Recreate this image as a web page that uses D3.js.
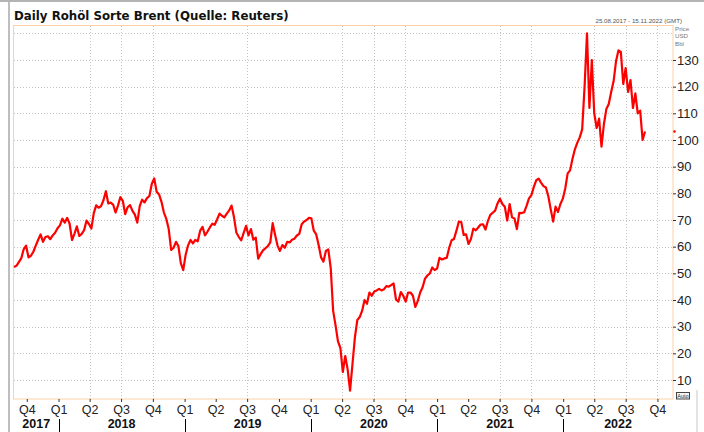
<!DOCTYPE html>
<html>
<head>
<meta charset="utf-8">
<script src="https://cdn.jsdelivr.net/npm/d3@7"></script>
<style>
  html, body { margin: 0; padding: 0; background: #fff; }
  svg { display: block; font-family: "Liberation Sans", Arial, sans-serif; }
</style>
</head>
<body>
<div id="chart"></div>
<script>
// Brent daily chart (Reuters) - weekly closes

const startDate = '2017-08-25';   // first value, then one value per week
const endDate = '2022-11-15';     // right edge of the time axis

const brent2017 = [52.4, 52.8, 54.2, 55.6, 59.0, 60.4, 56.0, 56.6, 58.1, 60.4, 62.6, 64.6, 61.8, 63.6, 63.9, 62.8, 64.2, 65.2, 66.9];
const brent2018 = [68.0, 70.5, 69.0, 70.8, 68.6, 62.5, 64.8, 67.6, 64.0, 64.8, 66.2, 69.8, 68.5, 66.8, 72.6, 75.5, 74.6, 75.2, 77.4, 80.8,
    76.2, 76.5, 75.8, 72.8, 75.4, 78.6, 77.2, 72.2, 74.8, 75.6, 73.4, 72.0, 69.0, 75.2, 77.6, 76.6, 78.2, 79.0, 83.6, 85.6,
    80.6, 79.6, 76.8, 72.8, 70.4, 66.6, 58.8, 59.6, 61.8, 60.2, 53.8, 51.2];
const brent2019 = [57.0, 60.5, 62.5, 61.2, 62.5, 62.0, 66.0, 67.4, 64.2, 65.6, 67.2, 68.6, 68.2, 70.2, 72.4, 71.6, 71.0, 72.4, 73.6, 75.4,
    71.0, 65.2, 63.6, 62.4, 65.2, 67.8, 64.2, 66.6, 62.6, 63.4, 55.5, 57.2, 58.6, 59.4, 60.2, 61.6, 68.8, 64.4, 60.4, 58.4,
    60.6, 59.6, 61.8, 61.6, 62.6, 63.0, 64.2, 64.8, 68.4, 69.4, 70.0, 70.8];
const brent2020 = [70.6, 66.0, 64.6, 60.6, 56.0, 54.4, 58.4, 59.0, 52.0, 36.0, 30.5, 24.5, 22.0, 13.0, 19.0, 14.0, 6.0, 16.0, 26.0, 32.5,
    33.6, 36.0, 40.0, 38.6, 42.8, 41.6, 43.2, 43.6, 44.2, 43.6, 44.0, 45.2, 45.0, 45.6, 46.2, 40.2, 39.4, 43.0, 41.6, 39.4,
    42.8, 42.8, 41.6, 37.4, 39.6, 42.8, 44.8, 48.0, 49.2, 50.0, 52.2, 51.2];
const brent2021 = [51.8, 55.8, 55.2, 55.6, 55.8, 59.6, 62.4, 62.9, 66.0, 69.4, 69.2, 64.4, 64.6, 61.0, 62.9, 66.8, 66.1, 67.2, 68.3, 68.4,
    66.4, 69.6, 71.9, 72.7, 73.5, 76.2, 78.0, 76.0, 75.0, 69.8, 76.0, 71.0, 70.6, 66.6, 72.7, 72.6, 72.9, 75.3, 78.1, 79.3,
    82.4, 84.9, 85.5, 84.0, 82.7, 82.2, 78.9, 74.0, 69.4, 75.0, 73.0, 76.0, 78.0];
const brent2022 = [81.8, 87.5, 88.6, 93.0, 96.5, 99.0, 101.0, 104.0, 120.0, 140.0, 112.0, 130.0, 110.0, 104.5, 108.0, 97.5, 106.0, 111.6, 113.5, 118.0,
    122.0, 129.5, 133.6, 133.0, 121.0, 127.0, 118.0, 122.5, 112.0, 117.5, 110.0, 111.0, 100.0, 103.2];

const priceTicks = [10, 20, 30, 40, 50, 60, 70, 80, 90, 100, 110, 120, 130];
const priceGrid = [10, 20, 30, 40, 50, 60, 70, 80, 90, 100, 110, 120, 130, 140];
const yearLabels = ['2017', '2018', '2019', '2020', '2021', '2022'];
const gridDates = ['2018-04-01', '2018-07-01', '2018-10-01', '2019-07-01', '2020-04-01', '2020-07-01',
    '2020-10-01', '2021-07-01', '2021-10-01', '2022-04-01', '2022-07-01', '2022-10-01'];

const W = 704, H = 432;
const plot = { left: 14, right: 673, top: 26, bottom: 399 };

const parse = d3.utcParse('%Y-%m-%d');
const t0 = parse(startDate), t1 = parse(endDate);

const values = [].concat(brent2017, brent2018, brent2019, brent2020, brent2021, brent2022);
const data = values.map((v, i) => ({ date: d3.utcDay.offset(t0, 7 * i), value: v }));

const x = d3.scaleUtc().domain([t0, t1]).range([plot.left, plot.right]);
const y = d3.scaleLinear().domain([2.875, 142.75]).range([plot.bottom, plot.top]);

const svg = d3.select('#chart').append('svg').attr('width', W).attr('height', H);

// outer frame
svg.append('line').attr('x1', 0).attr('x2', W).attr('y1', 1).attr('y2', 1).attr('stroke', '#b4b4b4').attr('stroke-width', 2);
svg.append('line').attr('x1', 9).attr('x2', 9).attr('y1', 2).attr('y2', H).attr('stroke', '#a8a8a8').attr('stroke-width', 1.5);
svg.append('line').attr('x1', 697).attr('x2', 697).attr('y1', 390).attr('y2', H).attr('stroke', '#c8c8c8').attr('stroke-width', 1);

svg.append('text').attr('x', 14).attr('y', 20)
    .style('font-family', '"DejaVu Sans", Verdana, sans-serif').style('font-weight', 'bold').style('font-size', '11.8px')
    .attr('fill', '#111').text('Daily Rohöl Sorte Brent (Quelle: Reuters)');

svg.append('text').attr('x', 682).attr('y', 22.5).attr('text-anchor', 'end')
    .style('font-size', '6.2px').attr('fill', '#555').text('25.08.2017 - 15.11.2022 (GMT)');

['Price', 'USD', 'Bbl'].forEach((s, i) => {
    svg.append('text').attr('x', 675).attr('y', 31 + i * 7.4).style('font-size', '6.2px').attr('fill', '#777').text(s);
});

// grid
const grid = svg.append('g').attr('stroke', '#c4c4c4').attr('stroke-width', 1).attr('stroke-dasharray', '1,2');
grid.selectAll('.hg').data(priceGrid).enter().append('line')
    .attr('x1', plot.left).attr('x2', plot.right)
    .attr('y1', d => Math.round(y(d)) + 0.5).attr('y2', d => Math.round(y(d)) + 0.5);
grid.selectAll('.vg').data(gridDates).enter().append('line')
    .attr('x1', d => Math.round(x(parse(d))) + 0.5).attr('x2', d => Math.round(x(parse(d))) + 0.5)
    .attr('y1', plot.top).attr('y2', plot.bottom);

// plot frame
svg.append('rect').attr('x', plot.left - 0.5).attr('y', plot.top - 0.5)
    .attr('width', plot.right - plot.left + 0.5).attr('height', plot.bottom - plot.top + 0.5)
    .attr('fill', 'none').attr('stroke', '#fcd1a4').attr('stroke-width', 1);

// price line
const line = d3.line().x(d => x(d.date)).y(d => y(d.value));
svg.append('path').datum(data).attr('d', line)
    .attr('fill', 'none').attr('stroke', '#ff0000').attr('stroke-width', 2.2).attr('stroke-linejoin', 'round');

// last value marker on the axis
const last = data[data.length - 1];
svg.append('circle').attr('cx', plot.right + 1.5).attr('cy', y(last.value)).attr('r', 1.3).attr('fill', '#ff0000');

// y axis (right)
const yAxis = d3.axisRight(y).tickValues(priceTicks).tickSize(3).tickPadding(1).tickFormat(d3.format('d'));
const gy = svg.append('g').attr('transform', `translate(${plot.right},0)`).call(yAxis);
gy.select('.domain').remove();
gy.selectAll('line').attr('stroke', '#333');
gy.selectAll('text').style('font-size', '13px').attr('fill', '#222').style('font-family', '"Liberation Sans", Arial, sans-serif');

// x axis: quarters
const quarters = d3.utcMonth.every(3).range(t0, t1);
const xAxis = d3.axisBottom(x).tickValues(quarters).tickSize(3).tickPadding(3)
    .tickFormat(d => 'Q' + (Math.floor(d.getUTCMonth() / 3) + 1));
const gx = svg.append('g').attr('transform', `translate(0,${plot.bottom})`).call(xAxis);
gx.select('.domain').remove();
gx.selectAll('line').attr('stroke', '#333');
gx.selectAll('text').style('font-size', '12.5px').attr('fill', '#222').style('font-family', '"Liberation Sans", Arial, sans-serif');

// years
yearLabels.forEach(yr => {
    const a = d3.max([t0, parse(yr + '-01-01')]);
    const b = d3.min([t1, parse((+yr + 1) + '-01-01')]);
    svg.append('text').attr('x', (x(a) + x(b)) / 2).attr('y', 428).attr('text-anchor', 'middle')
        .style('font-size', '12.5px').style('font-weight', 'bold').attr('fill', '#111').text(yr);
    if (x(a) > plot.left + 1) {
        svg.append('line').attr('x1', Math.round(x(a)) + 0.5).attr('x2', Math.round(x(a)) + 0.5)
            .attr('y1', 419).attr('y2', H).attr('stroke', '#000').attr('stroke-width', 1);
    }
});

// "Auto" button
svg.append('rect').attr('x', 676.5).attr('y', 392.5).attr('width', 13).attr('height', 6.5)
    .attr('fill', '#f4f4f4').attr('stroke', '#444').attr('stroke-width', 1);
svg.append('text').attr('x', 683).attr('y', 398).attr('text-anchor', 'middle')
    .style('font-size', '5.5px').attr('fill', '#333').text('Auto');
</script>
</body>
</html>
